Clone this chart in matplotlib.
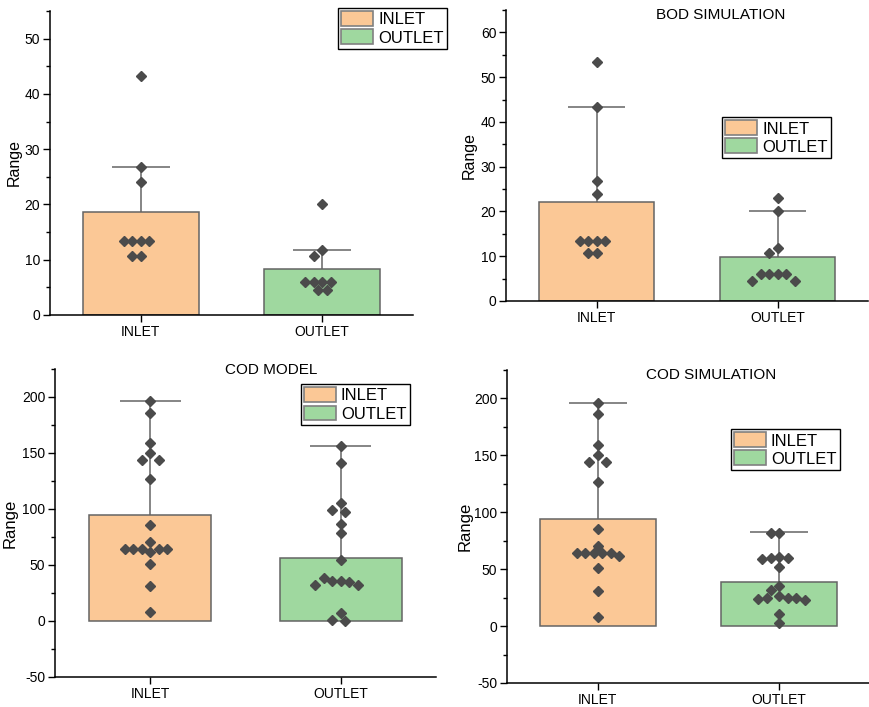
import numpy as np
import matplotlib
matplotlib.use("Agg")
import matplotlib.pyplot as plt
from matplotlib.patches import Patch
from matplotlib.ticker import MultipleLocator

plt.rcParams['font.family'] = ['Liberation Sans', 'DejaVu Sans']
plt.rcParams['axes.unicode_minus'] = False

categories = ['INLET', 'OUTLET']

# BOD model (top left)
bod_model_inlet = [43.3, 26.7, 24.0, 13.3, 13.3, 13.3, 13.3, 10.7, 10.7]
bod_model_outlet = [20.0, 11.8, 10.7, 6.0, 6.0, 6.0, 6.0, 4.5, 4.5]
bod_model_bars = [18.7, 8.3]
bod_model_whisker = [26.7, 11.8]

# BOD simulation (top right)
bod_sim_inlet = [53.3, 43.3, 26.7, 24.0, 13.3, 13.3, 13.3, 13.3, 10.7, 10.7]
bod_sim_outlet = [23.0, 20.0, 11.8, 10.7, 6.0, 6.0, 6.0, 6.0, 4.5, 4.5]
bod_sim_bars = [22.2, 9.8]
bod_sim_whisker = [43.3, 20.0]

# COD model (bottom left)
cod_model_inlet = [196, 186, 159, 150, 144, 144, 127, 85.5, 70.5,
                   64, 64, 64, 64, 64, 61.5, 51, 31, 8]
cod_model_outlet = [156, 141, 105, 99.5, 97.5, 87, 79, 54.5,
                    36, 36, 35, 38, 32, 32, 7, 1, 0]
cod_model_bars = [94.7, 56.1]
cod_model_whisker = [196.4, 156.2]

# COD simulation (bottom right)
cod_sim_inlet = [196, 186, 159, 150, 144, 144, 127, 85.5, 70.5,
                 64, 64, 64, 64, 64, 61.5, 51, 31, 8]
cod_sim_outlet = [82, 82, 61, 60, 60, 59, 52, 35, 32, 26, 25, 25, 25,
                  24, 23, 11, 3]
cod_sim_bars = [94.3, 38.8]
cod_sim_whisker = [196.4, 82.3]

fill_colors = ['#fbc896', '#9fd89f']
edge_color = '#646464'
point_color = '#4b4b4b'

W, H = 869, 707
fig = plt.figure(figsize=(W / 100, H / 100), dpi=100)


def px_axes(left, right, top, bottom):
    return fig.add_axes([left / W, 1 - bottom / H, (right - left) / W, (bottom - top) / H])


def swarm(values, px_per_y, px_per_x, diam=8.5):
    # simple beeswarm: put each point as near the centre as possible
    placed = []
    offsets = []
    step = diam / 2
    for v in values:
        y = v * px_per_y
        best = None
        for k in range(0, 40):
            for sign in ([1] if k == 0 else [-1, 1]):
                x = sign * k * step
                ok = all((x - px) ** 2 + (y - py) ** 2 >= diam ** 2 for px, py in placed)
                if ok:
                    best = x
                    break
            if best is not None:
                break
        placed.append((best, y))
        offsets.append(best / px_per_x)
    return offsets


def panel(box, ylim, major, minor, inlet, outlet, bars, whisker,
          title=None, title_xy=None, legend_xy=None, label_x=-0.1, label_size=11.5):
    left, right, top, bottom = box
    ax = px_axes(left, right, top, bottom)
    ax.set_xlim(0.5, 2.5)
    ax.set_ylim(*ylim)
    px_per_y = (bottom - top) / (ylim[1] - ylim[0])
    px_per_x = (right - left) / 2.0
    xs = [1, 2]
    ax.bar(xs, bars, width=0.64, color=fill_colors, edgecolor=edge_color,
           linewidth=1.1, zorder=2)
    ax.vlines(xs, bars, whisker, color=edge_color, linewidth=1.1, zorder=3)
    ax.hlines(whisker, [x - 0.16 for x in xs], [x + 0.16 for x in xs],
              color=edge_color, linewidth=1.1, zorder=3)
    for x, vals in zip(xs, [inlet, outlet]):
        offs = swarm(vals, px_per_y, px_per_x)
        ax.plot([x + o for o in offs], vals, linestyle='none', marker='D',
                markersize=5.2, color=point_color, zorder=4)
    ax.set_xticks(xs)
    ax.set_xticklabels(categories, fontsize=10)
    ax.yaxis.set_major_locator(MultipleLocator(major))
    ax.yaxis.set_minor_locator(MultipleLocator(minor))
    ax.tick_params(axis='y', which='major', length=5, width=1, labelsize=10, pad=2)
    ax.tick_params(axis='y', which='minor', length=3, width=1)
    ax.tick_params(axis='x', length=5, width=1, pad=2)
    ax.spines['top'].set_visible(False)
    ax.spines['right'].set_visible(False)
    for s in ['left', 'bottom']:
        ax.spines[s].set_linewidth(1.1)
    ax.set_ylabel('Range', fontsize=label_size)
    ax.yaxis.set_label_coords(label_x, 0.5)
    if title:
        fig.text(title_xy[0] / W, 1 - title_xy[1] / H, title, ha='center',
                 va='center', fontsize=11)
    handles = [Patch(facecolor=c, edgecolor='#808080', linewidth=1.2) for c in fill_colors]
    leg = ax.legend(handles, categories, loc='upper left',
                    bbox_to_anchor=(legend_xy[0] / W, 1 - legend_xy[1] / H),
                    bbox_transform=fig.transFigure, fontsize=12, frameon=True,
                    fancybox=False, edgecolor='black', framealpha=1,
                    handlelength=1.9, handleheight=1.0, handletextpad=0.3,
                    borderpad=0.2, labelspacing=0.12, borderaxespad=0)
    leg.get_frame().set_linewidth(1.0)
    return ax


panel((50, 413, 11, 315), (0, 55), 10, 5, bod_model_inlet, bod_model_outlet,
      bod_model_bars, bod_model_whisker, legend_xy=(338, 8), label_x=-0.077)
panel((506, 868, 10, 301), (0, 65), 10, 5, bod_sim_inlet, bod_sim_outlet,
      bod_sim_bars, bod_sim_whisker, title='BOD SIMULATION', title_xy=(721, 15),
      legend_xy=(722, 117), label_x=-0.08)
panel((55, 436, 369, 677), (-50, 225), 50, 25, cod_model_inlet, cod_model_outlet,
      cod_model_bars, cod_model_whisker, title='COD MODEL', title_xy=(271, 370),
      legend_xy=(301, 384), label_x=-0.097, label_size=12)
panel((507, 870, 370, 683), (-50, 225), 50, 25, cod_sim_inlet, cod_sim_outlet,
      cod_sim_bars, cod_sim_whisker, title='COD SIMULATION', title_xy=(711, 375),
      legend_xy=(731, 429), label_x=-0.096, label_size=12)

fig.savefig('out.png', dpi=100)
